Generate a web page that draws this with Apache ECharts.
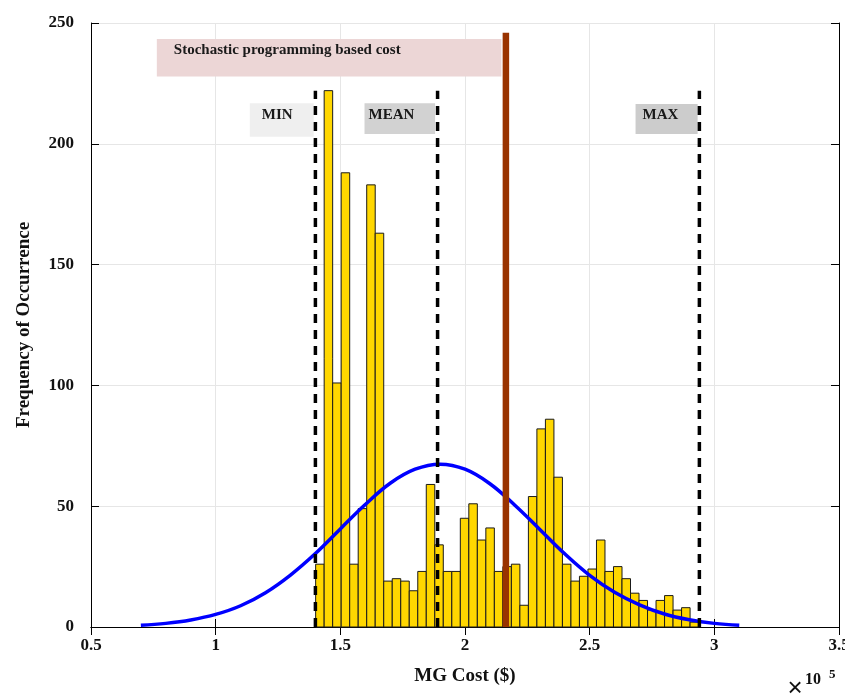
<!DOCTYPE html>
<html><head><meta charset="utf-8">
<script src="https://cdn.jsdelivr.net/npm/echarts@6/dist/echarts.min.js"></script>
<style>html,body{margin:0;padding:0;background:#fff}#c{width:845px;height:697px}</style>
</head><body><div id="c"></div>
<script>
// Histogram of MG cost (x in units of 1e5 $)
const binStart = 1.401;
const binWidth = 0.03413;
const counts = [26,222,101,188,26,49,183,163,19,20,19,15,23,59,34,23,23,45,51,36,41,23,25,26,9,54,82,86,62,26,19,21,24,36,23,25,20,14,11,7,11,13,7,8,2];
// Fitted normal curve
const fitX = [0.70,0.80,0.90,1.00,1.10,1.20,1.30,1.40,1.50,1.60,1.70,1.80,1.90,2.00,2.10,2.20,2.30,2.40,2.50,2.60,2.70,2.80,2.90,3.00,3.10];
const fitY = [0.7,1.5,2.9,5.2,8.8,14.2,21.5,30.4,40.6,50.7,59.5,65.3,67.4,65.3,59.3,50.4,40.4,30.3,21.4,14.4,9.2,5.4,3.0,1.5,0.7];
// Reference lines
const minCost = 1.40, meanCost = 1.89, maxCost = 2.94, stochCost = 2.164;
const markerTop = 222, stochTop = 246;
const xTicks = {min: 0.5, max: 3.5, step: 0.5};
const yTicks = {min: 0, max: 250, step: 50};

const histData = counts.map((c, i) => [binStart + i * binWidth, binStart + (i + 1) * binWidth, c]);
const fitData = fitX.map((x, i) => [x, fitY[i]]);

const FONT = 'Liberation Serif';
const chart = echarts.init(document.getElementById('c'), null, {renderer: 'canvas'});

function vline(x, top, color, width, type, z) {
  return {
    type: 'line', data: [[x, 0], [x, top]], symbol: 'none', silent: true, z: z,
    lineStyle: {color: color, width: width, type: type, cap: 'butt'},
    emphasis: {disabled: true}
  };
}

const boxLabel = (px, py) => ({show: true, position: [px, py], align: 'left', verticalAlign: 'middle',
  fontFamily: FONT, fontWeight: 'bold', fontSize: 15, color: '#1a1a1a'});

const redLine = vline(stochCost, stochTop, '#993300', 6.5, 'solid', 6);
redLine.markArea = {
  silent: true,
  emphasis: {disabled: true},
  data: [
    [{name: 'Stochastic programming based cost', coord: [0.764, 243.4], itemStyle: {color: '#ecd6d6', opacity: 1}, label: boxLabel(17, 11)}, {coord: [2.146, 227.9]}],
    [{name: 'MIN', coord: [1.137, 216.8], itemStyle: {color: '#efefef', opacity: 1}, label: boxLabel(12, 12)}, {coord: [1.393, 202.9]}],
    [{name: 'MEAN', coord: [1.597, 216.8], itemStyle: {color: '#d2d2d2', opacity: 1}, label: boxLabel(4, 12)}, {coord: [1.880, 204.1]}],
    [{name: 'MAX', coord: [2.684, 216.5], itemStyle: {color: '#cccccc', opacity: 1}, label: boxLabel(7, 11)}, {coord: [2.933, 204.1]}]
  ]
};

const dash = [9, 7];
const axisCommon = {
  axisLine: {show: true, lineStyle: {color: '#000', width: 1}},
  axisTick: {show: true, inside: true, length: 8, lineStyle: {color: '#000', width: 1}},
};

chart.setOption({
  animation: false,
  backgroundColor: '#fff',
  grid: {left: 91, right: 6, top: 23, bottom: 70, containLabel: false, outerBoundsMode: 'none'},
  xAxis: [{
    type: 'value', min: xTicks.min, max: xTicks.max, interval: xTicks.step, position: 'bottom',
    name: 'MG Cost ($)', nameLocation: 'middle', nameGap: 40,
    nameTextStyle: {fontFamily: FONT, fontWeight: 'bold', fontSize: 19, color: '#111'},
    ...axisCommon,
    axisLabel: {fontFamily: FONT, fontWeight: 'bold', fontSize: 17, color: '#111', margin: 10},
    splitLine: {show: true, lineStyle: {color: '#e6e6e6', width: 1}}
  }, {
    type: 'value', min: xTicks.min, max: xTicks.max, interval: xTicks.step, position: 'top',
    ...axisCommon, axisLabel: {show: false}, splitLine: {show: false}
  }],
  yAxis: [{
    type: 'value', min: yTicks.min, max: yTicks.max, interval: yTicks.step, position: 'left',
    name: 'Frequency of Occurrence', nameLocation: 'middle', nameGap: 57,
    nameTextStyle: {fontFamily: FONT, fontWeight: 'bold', fontSize: 19, color: '#111'},
    ...axisCommon,
    axisLabel: {fontFamily: FONT, fontWeight: 'bold', fontSize: 17, color: '#111', margin: 17, padding: [0, 0, 13, 0]},
    splitLine: {show: true, lineStyle: {color: '#e6e6e6', width: 1}}
  }, {
    type: 'value', min: yTicks.min, max: yTicks.max, interval: yTicks.step, position: 'right',
    ...axisCommon, axisLabel: {show: false}, splitLine: {show: false}
  }],
  series: [
    {
      type: 'custom', data: histData, z: 2, silent: true,
      encode: {x: [0, 1], y: 2},
      renderItem: function (params, api) {
        const p0 = api.coord([api.value(0), api.value(2)]);
        const p1 = api.coord([api.value(1), 0]);
        return {type: 'rect', shape: {x: p0[0], y: p0[1], width: p1[0] - p0[0], height: p1[1] - p0[1]},
          style: {fill: '#FFD700', stroke: '#1a1a1a', lineWidth: 1}};
      }
    },
    {
      type: 'line', data: fitData, smooth: 0.4, symbol: 'none', z: 4, silent: true,
      lineStyle: {color: '#0000FF', width: 3.5}, emphasis: {disabled: true}
    },
    vline(minCost, markerTop, '#000', 3.5, dash, 5),
    vline(meanCost, markerTop, '#000', 3.5, dash, 5),
    vline(maxCost, markerTop, '#000', 3.5, dash, 5),
    redLine
  ],
  graphic: [
    {type: 'text', x: 795, y: 689, style: {text: '×', fontFamily: 'Liberation Sans', fontSize: 26, fill: '#111', align: 'center', verticalAlign: 'middle'}},
    {type: 'text', x: 805, y: 680, style: {text: '10', fontFamily: FONT, fontWeight: 'bold', fontSize: 16, fill: '#111', align: 'left', verticalAlign: 'middle'}},
    {type: 'text', x: 829, y: 675, style: {text: '5', fontFamily: FONT, fontWeight: 'bold', fontSize: 13, fill: '#111', align: 'left', verticalAlign: 'middle'}}
  ]
});
</script>
</body></html>
